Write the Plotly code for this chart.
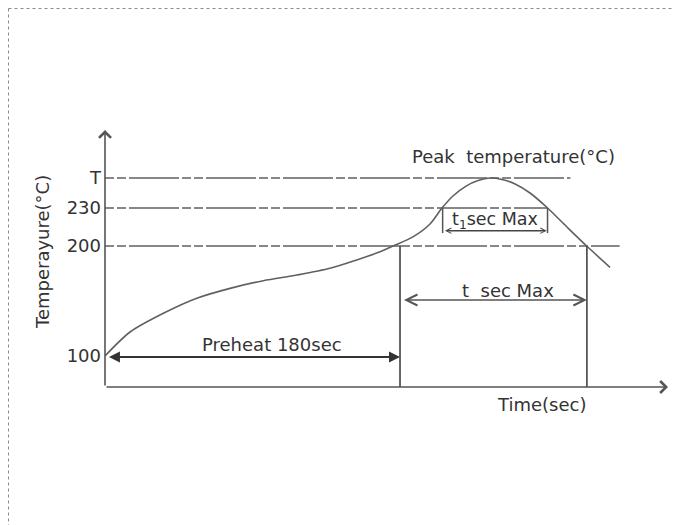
import plotly.graph_objects as go

# ---- data (schematic reflow profile) ----
curve_time = [0, 15.3, 35.6, 56.0, 76.3, 96.6, 117.0, 137.3, 153.6, 167.8, 175.7,
              188.1, 198.3, 205.6, 212.3, 220.3, 227.6, 234.9, 242.2, 250.2, 259.3,
              269.7, 281.7, 293.9, 308.1]
curve_temp = [100, 121.8, 138.8, 152.5, 161.5, 168.5, 173.6, 179.7, 187.3, 194.8, 200.0,
              208.5, 220.0, 234.5, 245.5, 254.5, 259.5, 261.8, 260.5, 256.4, 248.2,
              235.0, 217.5, 200.0, 180.6]

level_pos = [100, 200, 234.5, 261.8]          # schematic positions of the levels
level_labels = ["100", "200", "230", "T"]

preheat_end = 180        # sec
t_exit = 294             # time when profile falls back to 200
t1_start, t1_end = 206, 270

x_range = [0, 343.5]
y_range = [71.8, 305.5]

LINE = "#555555"
TEXT = "#333333"
FONT = "DejaVu Sans"

fig = go.Figure()
fig.add_trace(go.Scatter(x=curve_time, y=curve_temp, mode="lines",
                         line=dict(shape="spline", smoothing=0.8, color="#606060", width=1.6),
                         hoverinfo="skip"))

dash = "9px,3px,9px,3px,50px,3px"
shapes = []
# horizontal reference lines
for lvl, xend in [(level_pos[3], 284), (level_pos[2], t1_end), (level_pos[1], 314)]:
    shapes.append(dict(type="line", xref="x", yref="y", x0=0, x1=xend, y0=lvl, y1=lvl,
                       line=dict(color="#606060", width=1.5, dash=dash)))
# vertical lines
for xv in [preheat_end, t_exit]:
    shapes.append(dict(type="line", xref="x", yref="y", x0=xv, x1=xv, y0=y_range[0], y1=level_pos[1],
                       line=dict(color=LINE, width=1.8)))
for xv in [t1_start, t1_end]:
    shapes.append(dict(type="line", xref="x", yref="y", x0=xv, x1=xv, y0=level_pos[2], y1=211.8,
                       line=dict(color=LINE, width=1.5)))
# dotted image border (top and left)
shapes.append(dict(type="line", xref="paper", yref="paper", x0=-0.1714, x1=1.03, y0=1.4728, y1=1.4728,
                   line=dict(color="#8a8a8a", width=1, dash="dot")))
shapes.append(dict(type="line", xref="paper", yref="paper", x0=-0.1714, x1=-0.1714, y0=1.4728, y1=-0.55,
                   line=dict(color="#8a8a8a", width=1, dash="dot")))

ann = []
def arrow(x0, y0, x1, y1, head, width, size, color, both=False):
    d = dict(x=x1, y=y1, ax=x0, ay=y0, xref="x", yref="y", axref="x", ayref="y",
             text="", showarrow=True, arrowhead=head, arrowwidth=width, arrowsize=size,
             arrowcolor=color, standoff=0, startstandoff=0)
    if both:
        d.update(arrowside="end+start", startarrowhead=head, startarrowsize=size)
    ann.append(d)

# axes
arrow(0, y_range[0], 0, y_range[1], 4, 1.6, 1.45, LINE)
arrow(0, y_range[0], x_range[1], y_range[0], 4, 1.6, 1.45, LINE)
# preheat arrow
arrow(1.5, 99, preheat_end, 99, 2, 2, 1.1, "#333333", both=True)
# t sec max arrow
arrow(preheat_end + 1.5, 150.9, t_exit, 150.9, 5, 1.5, 1.45, LINE, both=True)
# t1 arrow
arrow(t1_start + 0.5, 213.9, t1_end - 0.5, 213.9, 5, 1.3, 0.8, "#444444", both=True)

def label(text, x, y, size=18, ref="data", angle=0):
    r = "paper" if ref == "paper" else None
    ann.append(dict(text=text, x=x, y=y, xref=r or "x", yref=r or "y", showarrow=False,
                    textangle=angle, font=dict(family=FONT, size=size, color=TEXT),
                    xanchor="center", yanchor="middle"))

label("Peak  temperature(°C)", 249, 281)
label("t<sub>1</sub>sec Max", 238.2, 223.6, size=17.5)
label("t\u00a0\u00a0sec Max", 245.6, 160)
label("Preheat 180sec", 101.6, 110)
label("Time(sec)", 0.7753, -0.07, ref="paper")
label("Temperayure(°C)", -0.112, 0.525, ref="paper", angle=-90)

fig.update_layout(
    width=680, height=525,
    margin=dict(l=97, r=20, t=122, b=146, pad=0),
    paper_bgcolor="white", plot_bgcolor="white",
    showlegend=False, shapes=shapes, annotations=ann,
    xaxis=dict(range=x_range, showgrid=False, zeroline=False, showline=False,
               showticklabels=False, ticks=""),
    yaxis=dict(range=y_range, showgrid=False, zeroline=False, showline=False,
               tickvals=level_pos, ticktext=level_labels, ticks="",
               ticklabelstandoff=3, tickfont=dict(family=FONT, size=18, color=TEXT)),
)

fig.write_html("out.html")
